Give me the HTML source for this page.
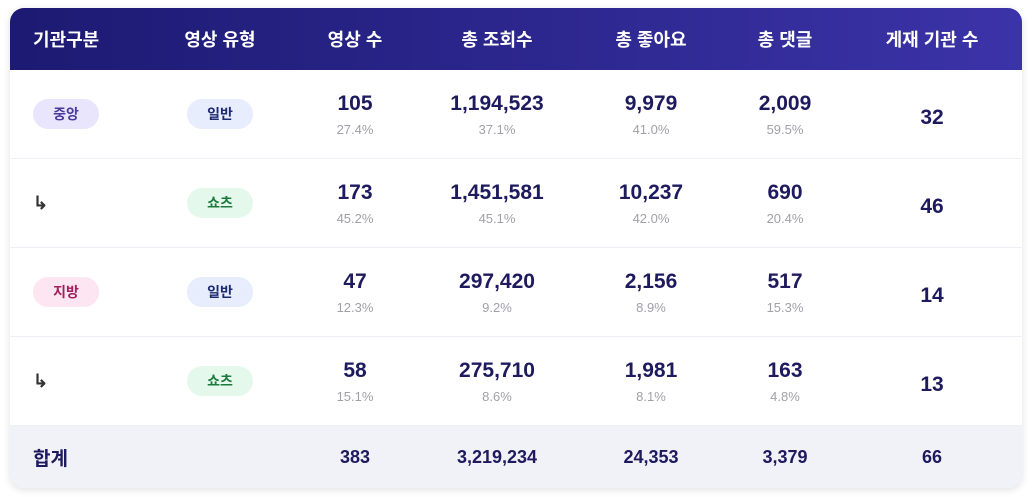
<!DOCTYPE html>
<html><head><meta charset="utf-8"><style>
body{margin:0;width:1032px;height:497px;background:#fff;font-family:"Liberation Sans","Noto Sans CJK KR",sans-serif;}
.card{position:absolute;left:10px;top:8px;width:1012px;height:480px;border-radius:14px;background:#fff;box-shadow:0 2px 8px rgba(0,0,0,0.12);overflow:hidden;}
table{border-collapse:collapse;table-layout:fixed;width:1012px;}
th{height:62px;color:#fff;font-size:18px;font-weight:bold;text-align:center;padding:0;}
thead tr{background:linear-gradient(90deg,#1c1a72,#3b33a8);}
td{text-align:center;padding:0;height:88px;border-bottom:1px solid #eef0f6;}
tr.foot td{height:62px;background:#f1f2f8;border:none;font-size:18px;font-weight:bold;color:#1e1a5e;}
.n{font-size:21px;font-weight:bold;color:#1e1a5e;line-height:24px;padding-top:2px;}
.p{font-size:13px;color:#a0a0a8;line-height:18px;margin-top:5px;}
.n.s{padding-top:8px;}
.b{display:inline-block;width:66px;height:30px;line-height:30px;border-radius:15px;font-size:14px;font-weight:bold;text-align:center;}
.c1{text-align:left;padding-left:23px;}
.arr{font-size:18px;color:#333;font-weight:bold;}
</style></head><body>
<div class="card"><table>
<colgroup><col style="width:140px"><col style="width:140px"><col style="width:130px"><col style="width:154px"><col style="width:154px"><col style="width:114px"><col style="width:180px"></colgroup>
<thead><tr><th class="c1">기관구분</th><th>영상 유형</th><th>영상 수</th><th>총 조회수</th><th>총 좋아요</th><th>총 댓글</th><th>게재 기관 수</th></tr></thead>
<tbody>
<tr><td class="c1"><span class="b" style="background:#e9e5fc;color:#4b3a9c">중앙</span></td><td><span class="b" style="background:#e7edfd;color:#1e2a6e">일반</span></td>
<td><div class="n">105</div><div class="p">27.4%</div></td><td><div class="n">1,194,523</div><div class="p">37.1%</div></td><td><div class="n">9,979</div><div class="p">41.0%</div></td><td><div class="n">2,009</div><div class="p">59.5%</div></td><td><div class="n s">32</div></td></tr>
<tr><td class="c1"><span class="arr">↳</span></td><td><span class="b" style="background:#e4f9eb;color:#1c7a3c">쇼츠</span></td>
<td><div class="n">173</div><div class="p">45.2%</div></td><td><div class="n">1,451,581</div><div class="p">45.1%</div></td><td><div class="n">10,237</div><div class="p">42.0%</div></td><td><div class="n">690</div><div class="p">20.4%</div></td><td><div class="n s">46</div></td></tr>
<tr><td class="c1"><span class="b" style="background:#fde5f1;color:#a3205c">지방</span></td><td><span class="b" style="background:#e7edfd;color:#1e2a6e">일반</span></td>
<td><div class="n">47</div><div class="p">12.3%</div></td><td><div class="n">297,420</div><div class="p">9.2%</div></td><td><div class="n">2,156</div><div class="p">8.9%</div></td><td><div class="n">517</div><div class="p">15.3%</div></td><td><div class="n s">14</div></td></tr>
<tr><td class="c1"><span class="arr">↳</span></td><td><span class="b" style="background:#e4f9eb;color:#1c7a3c">쇼츠</span></td>
<td><div class="n">58</div><div class="p">15.1%</div></td><td><div class="n">275,710</div><div class="p">8.6%</div></td><td><div class="n">1,981</div><div class="p">8.1%</div></td><td><div class="n">163</div><div class="p">4.8%</div></td><td><div class="n s">13</div></td></tr>
<tr class="foot"><td class="c1" style="font-size:19px">합계</td><td></td><td>383</td><td>3,219,234</td><td>24,353</td><td>3,379</td><td>66</td></tr>
</tbody></table></div>
</body></html>
